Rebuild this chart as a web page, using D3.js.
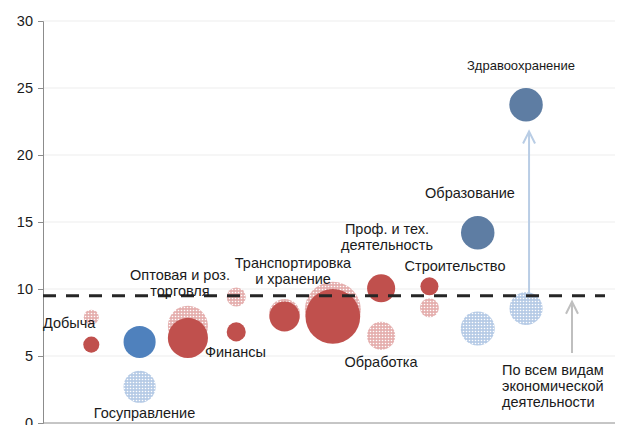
<!DOCTYPE html>
<html>
<head>
<meta charset="utf-8">
<script src="https://cdn.jsdelivr.net/npm/d3@7"></script>
<style>
  body { margin: 0; background: #fff; }
  svg text { font-family: "Liberation Sans", Arial, sans-serif; fill: #1a1a1a; }
</style>
</head>
<body>
<svg id="chart" width="620" height="425"></svg>
<script>
const industries = ["Добыча", "Госуправление", "Оптовая и роз. торговля", "Финансы",
  "Транспортировка и хранение", "Обработка", "Проф. и тех. деятельность",
  "Строительство", "Образование", "Здравоохранение"];
// solid bubbles (later year) and patterned bubbles (earlier year)
const solidValues = [5.85, 6.05, 6.35, 6.8, 7.95, 7.95, 10.05, 10.2, 14.2, 23.75];
const patternValues = [7.9, 2.7, 7.25, 9.4, 8.1, 8.45, 6.5, 8.6, 7.05, 8.55];
const solidSizes = [6.4, 25.6, 40, 9, 22.5, 74.5, 19.6, 8.1, 27.9, 27.9];
const patternSizes = [5.6, 25.6, 40, 9, 24, 78, 19.6, 9, 28.9, 27.2];
const colorGroup = ["red", "blue", "red", "red", "red", "red", "red", "red", "slate", "slate"];
const allEconomy = 9.5;
const yTicks = [0, 5, 10, 15, 20, 25, 30];

const svg = d3.select("#chart");
const x = d3.scaleLinear().domain([0, 11.8]).range([43, 613]);
const y = d3.scaleLinear().domain([0, 30]).range([423, 21]);
const r = d3.scaleSqrt().domain([0, 78]).range([0, 28]);

const solidColor = { red: "#C0504D", blue: "#4F81BD", slate: "#5E7DA3" };
const patternColor = { red: "#E5AFAE", blue: "#B6CBE6" };

const defs = svg.append("defs");
["red", "blue"].forEach(k => {
  const p = defs.append("pattern")
    .attr("id", "dots-" + k)
    .attr("width", 3).attr("height", 3)
    .attr("patternUnits", "userSpaceOnUse");
  p.append("rect").attr("width", 3).attr("height", 3).attr("fill", patternColor[k]);
  p.append("circle").attr("cx", 1.5).attr("cy", 1.5).attr("r", 0.8).attr("fill", "#fff");
});

// grid
svg.append("g").selectAll("line")
  .data(yTicks.slice(1))
  .join("line")
  .attr("x1", 43).attr("x2", 615)
  .attr("y1", d => y(d)).attr("y2", d => y(d))
  .attr("stroke", "#ededed");

const yAxis = svg.append("g")
  .attr("transform", "translate(43,0)")
  .call(d3.axisLeft(y).tickValues(yTicks).tickSize(5).tickPadding(5));
yAxis.select(".domain").attr("stroke", "#8c8c8c");
yAxis.selectAll(".tick line").attr("stroke", "#8c8c8c");
yAxis.selectAll("text").style("font-size", "14.5px").attr("fill", "#1a1a1a")
  .style("font-family", "Liberation Sans, Arial, sans-serif");

svg.append("line")
  .attr("x1", 43).attr("x2", 615)
  .attr("y1", y(0)).attr("y2", y(0))
  .attr("stroke", "#8c8c8c");

const data = industries.map((name, i) => ({
  name, i: i + 1,
  solid: solidValues[i], pattern: patternValues[i],
  sSize: solidSizes[i], pSize: patternSizes[i], group: colorGroup[i]
}));

svg.append("g").selectAll("circle")
  .data(data)
  .join("circle")
  .attr("cx", d => x(d.i))
  .attr("cy", d => y(d.pattern))
  .attr("r", d => r(d.pSize))
  .attr("fill", d => d.group === "red" ? "url(#dots-red)" : "url(#dots-blue)");

svg.append("g").selectAll("circle")
  .data(data)
  .join("circle")
  .attr("cx", d => x(d.i))
  .attr("cy", d => y(d.solid))
  .attr("r", d => r(d.sSize))
  .attr("fill", d => solidColor[d.group]);

// arrows
function arrow(x0, y0, y1, color, w) {
  const g = svg.append("g").attr("stroke", color).attr("stroke-width", w).attr("fill", "none");
  g.append("line").attr("x1", x0).attr("x2", x0).attr("y1", y0).attr("y2", y1 + 1);
  g.append("path").attr("d", `M${x0 - 6},${y1 + 12}L${x0},${y1}L${x0 + 6},${y1 + 12}`);
}
const health = data[9];
arrow(x(health.i) + 3, y(health.pattern) - r(health.pSize) + 6, y(health.solid) + r(health.sSize) + 10, "#B9CDE5", 2);
arrow(572, 353, y(allEconomy) + 6, "#BFBFBF", 2);

svg.append("line")
  .attr("x1", 43).attr("x2", 605)
  .attr("y1", y(allEconomy)).attr("y2", y(allEconomy))
  .attr("stroke", "#262626")
  .attr("stroke-width", 3)
  .attr("stroke-dasharray", "13,10");

// labels
const labels = [
  { lines: ["Здравоохранение"], x: 521, y: 70, size: 13, anchor: "middle" },
  { lines: ["Образование"], x: 470, y: 198, size: 14.5, anchor: "middle" },
  { lines: ["Проф. и тех.", "деятельность"], x: 387, y: 234, size: 14.5, anchor: "middle" },
  { lines: ["Строительство"], x: 455, y: 271, size: 14.5, anchor: "middle" },
  { lines: ["Транспортировка", "и хранение"], x: 293, y: 268, size: 14.5, anchor: "middle" },
  { lines: ["Оптовая и роз.", "торговля"], x: 180, y: 280, size: 14.5, anchor: "middle" },
  { lines: ["Добыча"], x: 43, y: 328, size: 14.5, anchor: "start" },
  { lines: ["Финансы"], x: 205, y: 357, size: 14.5, anchor: "start" },
  { lines: ["Госуправление"], x: 144.5, y: 418, size: 14.5, anchor: "middle" },
  { lines: ["Обработка"], x: 381, y: 367, size: 14.5, anchor: "middle" },
  { lines: ["По всем видам", "экономической", "деятельности"], x: 502, y: 375, size: 14.5, anchor: "start" }
];
const lab = svg.append("g").selectAll("text")
  .data(labels)
  .join("text")
  .attr("x", d => d.x).attr("y", d => d.y)
  .attr("text-anchor", d => d.anchor)
  .style("font-size", d => d.size + "px");
lab.selectAll("tspan")
  .data(d => d.lines.map((t, k) => ({ t, k, x: d.x })))
  .join("tspan")
  .attr("x", d => d.x)
  .attr("dy", d => d.k === 0 ? 0 : "1.12em")
  .text(d => d.t);
</script>
</body>
</html>
